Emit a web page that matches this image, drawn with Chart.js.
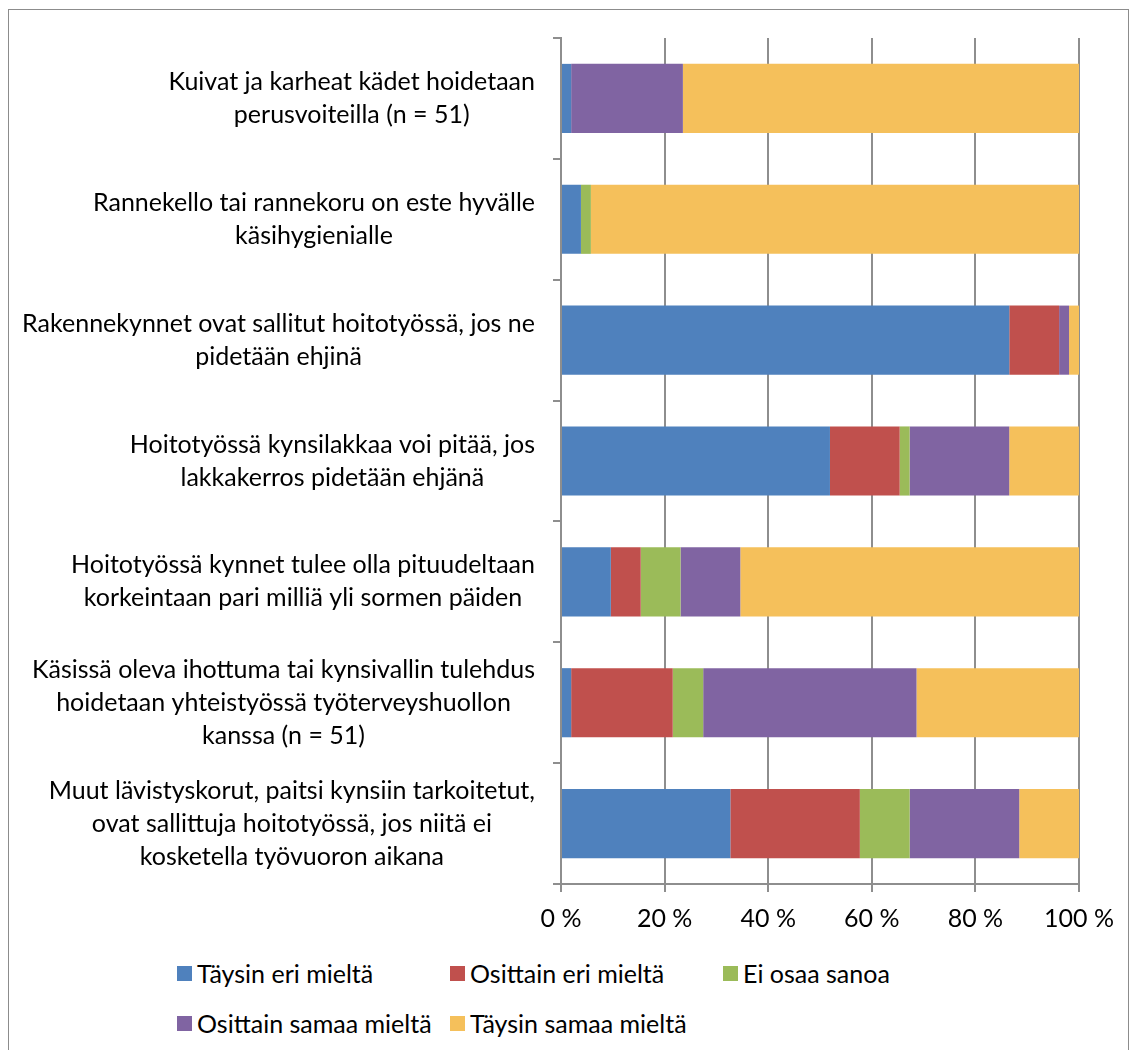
<!DOCTYPE html>
<html>
<head>
<meta charset="utf-8">
<script src="https://cdn.jsdelivr.net/npm/chart.js@4"></script>
<style>
  body { margin: 0; background: #fff; font-family: Lato, 'Open Sans', sans-serif; }
  #frame { position: absolute; left: 8px; top: 9px; width: 1119px; height: 1060px;
           border: 1px solid #8c8c8c; border-bottom: none; }
  #wrap { position: absolute; left: 0; top: 0; width: 1132px; height: 944px; }
  #legend { position: absolute; left: 177px; top: 958px; width: 900px;
            display: grid; grid-template-columns: 273px 273px 273px; row-gap: 20px;
            font-size: 25px; color: #000; }
  #legend div { display: flex; align-items: center; height: 30px; white-space: nowrap; }
  #legend span.box { width: 15px; height: 15px; margin-right: 5px; flex: none; }
</style>
</head>
<body>
<div id="frame"></div>
<div id="wrap"><canvas id="chart"></canvas></div>
<div id="legend"></div>
<script>
// categories, top to bottom
const categories = [
    ['Kuivat ja karheat kädet hoidetaan', 'perusvoiteilla (n = 51)'],
    ['Rannekello tai rannekoru on este hyvälle', 'käsihygienialle'],
    ['Rakennekynnet ovat sallitut hoitotyössä, jos ne', 'pidetään ehjinä'],
    ['Hoitotyössä kynsilakkaa voi pitää, jos', 'lakkakerros pidetään ehjänä'],
    ['Hoitotyössä kynnet tulee olla pituudeltaan', 'korkeintaan pari milliä yli sormen päiden'],
    ['Käsissä oleva ihottuma tai kynsivallin tulehdus', 'hoidetaan yhteistyössä työterveyshuollon', 'kanssa (n = 51)'],
    ['Muut lävistyskorut, paitsi kynsiin tarkoitetut,', 'ovat sallittuja hoitotyössä, jos niitä ei', 'kosketella työvuoron aikana']
];

// shares in percent
const taysinEri = [1.96, 3.85, 86.54, 51.92, 9.62, 1.96, 32.69];
const osittainEri = [0, 0, 9.62, 13.46, 5.77, 19.61, 25.00];
const eiOsaa = [0, 1.92, 0, 1.92, 7.69, 5.88, 9.62];
const osittainSamaa = [21.57, 0, 1.92, 19.23, 11.54, 41.18, 21.15];
const taysinSamaa = [76.47, 94.23, 1.92, 13.46, 65.38, 31.37, 11.54];

const seriesNames = ['Täysin eri mieltä', 'Osittain eri mieltä', 'Ei osaa sanoa', 'Osittain samaa mieltä', 'Täysin samaa mieltä'];
const xTicks = [0, 20, 40, 60, 80, 100];

const colors = ['#4F81BD', '#C0504D', '#9BBB59', '#8064A2', '#F5C05B'];
const gridGray = '#8e8e8e';
const font = { family: "Lato, 'Open Sans', sans-serif", size: 25 };

// draws the multi line category labels, each block right aligned, lines centered
const categoryLabels = {
    id: 'categoryLabels',
    afterDraw(chart) {
        const ctx = chart.ctx;
        const yScale = chart.scales.y;
        const right = chart.chartArea.left - 26;
        const lineH = 33;
        ctx.save();
        ctx.font = font.size + 'px ' + font.family;
        ctx.fillStyle = '#000';
        ctx.textAlign = 'center';
        ctx.textBaseline = 'middle';
        categories.forEach((lines, i) => {
            const cy = yScale.getPixelForValue(i);
            const w = Math.max(...lines.map(l => ctx.measureText(l).width));
            const cx = right - w / 2;
            lines.forEach((l, j) => {
                ctx.fillText(l, cx, cy + (j - (lines.length - 1) / 2) * lineH);
            });
        });
        ctx.restore();
    }
};

const values = [taysinEri, osittainEri, eiOsaa, osittainSamaa, taysinSamaa];

const chart = new Chart(document.getElementById('chart'), {
    type: 'bar',
    data: {
        labels: categories.map(c => c.join(' ')),
        datasets: seriesNames.map((name, i) => ({
            label: name,
            data: values[i],
            backgroundColor: colors[i],
            borderWidth: 0,
            categoryPercentage: 1,
            barPercentage: 0.572
        }))
    },
    options: {
        indexAxis: 'y',
        responsive: true,
        maintainAspectRatio: false,
        animation: false,
        layout: { padding: { left: 0, right: 53, top: 38, bottom: 0 } },
        plugins: {
            legend: { display: false },
            tooltip: { enabled: false }
        },
        scales: {
            x: {
                stacked: true,
                min: 0,
                max: 100,
                afterBuildTicks: scale => { scale.ticks = xTicks.map(v => ({ value: v })); },
                afterFit: scale => { scale.height = 60; },
                ticks: {
                    callback: v => v + ' %',
                    color: '#000',
                    font: font,
                    padding: 12,
                    maxRotation: 0
                },
                grid: { color: gridGray, lineWidth: 2, tickLength: 8 },
                border: { color: gridGray, width: 2 }
            },
            y: {
                stacked: true,
                afterFit: scale => { scale.width = 561; },
                ticks: { display: false },
                grid: { offset: true, drawOnChartArea: false, color: gridGray, lineWidth: 2, tickLength: 8 },
                border: { color: gridGray, width: 2 }
            }
        }
    },
    plugins: [categoryLabels]
});

// legend laid out as a grid like the original
const legend = document.getElementById('legend');
chart.data.datasets.forEach(ds => {
    const item = document.createElement('div');
    item.innerHTML = '<span class="box" style="background:' + ds.backgroundColor + '"></span>' + ds.label;
    legend.appendChild(item);
});
</script>
</body>
</html>
